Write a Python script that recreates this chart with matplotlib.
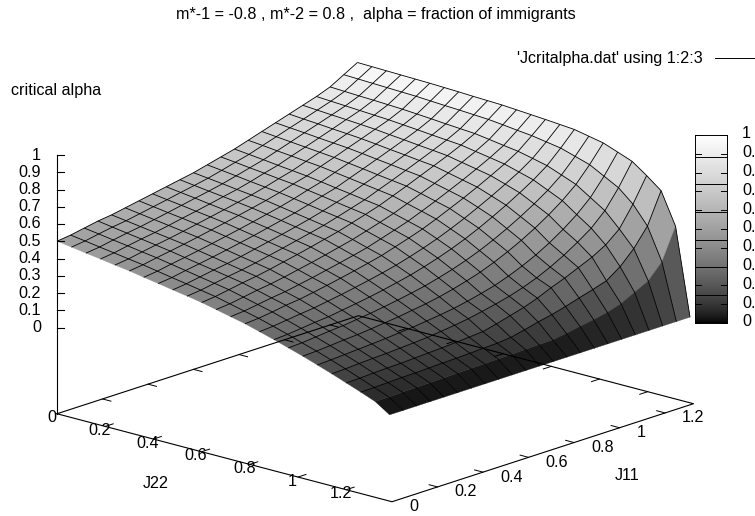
import matplotlib
matplotlib.use('Agg')
import matplotlib.pyplot as plt
from matplotlib.collections import LineCollection, PolyCollection
from matplotlib.colors import ListedColormap
import numpy as np

plt.rcParams['font.family'] = ['Liberation Sans', 'DejaVu Sans']

titleText = "m*-1 = -0.8 , m*-2 = 0.8 ,  alpha = fraction of immigrants"
keyText = "'Jcritalpha.dat' using 1:2:3"

j22 = [0.00, 0.06, 0.12, 0.18, 0.24, 0.30, 0.36, 0.42, 0.48, 0.54, 0.60, 0.66,
       0.72, 0.78, 0.84, 0.90, 0.96, 1.02, 1.08, 1.14, 1.20, 1.26, 1.32, 1.38]
j11 = [0.00, 0.06, 0.12, 0.18, 0.24, 0.30, 0.36, 0.42, 0.48, 0.54, 0.60, 0.66,
       0.72, 0.78, 0.84, 0.90, 0.96, 1.02, 1.08, 1.14, 1.20, 1.26, 1.32]

# one row per j22 value, j11 runs along the row
critAlpha = [
    [.500, .510, .525, .540, .550, .565, .580, .595, .610, .625, .640, .660, .680, .700, .725, .750, .775, .800, .825, .850, .880, .925, .970],
    [.488, .498, .513, .527, .538, .553, .568, .583, .599, .614, .630, .650, .671, .691, .717, .742, .768, .793, .819, .845, .876, .922, .968],
    [.475, .485, .500, .514, .526, .541, .556, .572, .588, .603, .620, .640, .661, .682, .708, .734, .761, .787, .813, .840, .872, .919, .966],
    [.463, .473, .488, .502, .514, .529, .545, .560, .576, .593, .609, .629, .652, .672, .700, .726, .753, .780, .808, .835, .869, .916, .964],
    [.450, .460, .475, .489, .502, .517, .533, .549, .565, .582, .599, .619, .642, .663, .691, .718, .746, .774, .802, .830, .865, .913, .962],
    [.438, .448, .463, .476, .490, .505, .521, .537, .554, .571, .589, .609, .633, .654, .683, .710, .739, .767, .796, .825, .861, .910, .960],
    [.423, .433, .448, .461, .475, .490, .506, .522, .539, .557, .575, .596, .620, .642, .671, .699, .729, .758, .787, .818, .855, .905, .957],
    [.409, .418, .433, .446, .460, .475, .491, .507, .525, .543, .561, .583, .607, .629, .659, .688, .718, .748, .779, .811, .849, .900, .954],
    [.394, .404, .418, .432, .444, .459, .476, .493, .510, .528, .547, .569, .593, .617, .647, .676, .708, .739, .770, .803, .842, .896, .950],
    [.380, .389, .403, .417, .429, .444, .461, .478, .496, .514, .533, .556, .580, .604, .635, .665, .697, .729, .762, .796, .836, .891, .947],
    [.365, .374, .388, .402, .414, .429, .446, .463, .481, .500, .519, .543, .567, .592, .623, .654, .687, .720, .753, .789, .830, .886, .944],
    [.346, .354, .367, .381, .392, .406, .423, .439, .457, .476, .495, .519, .543, .569, .600, .633, .666, .701, .736, .774, .818, .877, .938],
    [.327, .334, .346, .359, .369, .384, .399, .416, .433, .451, .470, .495, .520, .546, .578, .611, .646, .682, .720, .760, .805, .867, .932],
    [.308, .314, .325, .338, .347, .361, .376, .392, .409, .427, .446, .471, .496, .523, .555, .590, .625, .663, .703, .745, .793, .858, .926],
    [.284, .290, .300, .310, .319, .332, .345, .360, .376, .393, .412, .435, .460, .488, .520, .555, .593, .633, .676, .721, .774, .844, .919],
    [.260, .265, .274, .283, .290, .302, .314, .327, .342, .359, .377, .399, .424, .452, .484, .520, .560, .602, .648, .697, .754, .830, .912],
    [.234, .238, .246, .254, .260, .270, .280, .292, .305, .320, .336, .357, .380, .407, .438, .474, .514, .558, .606, .659, .722, .804, .895],
    [.208, .212, .218, .225, .230, .238, .247, .256, .268, .280, .295, .314, .336, .361, .392, .428, .468, .513, .564, .621, .689, .778, .878],
    [.179, .183, .188, .193, .198, .204, .211, .218, .228, .238, .250, .266, .285, .306, .334, .367, .405, .450, .502, .562, .635, .733, .847],
    [.150, .153, .158, .162, .165, .170, .175, .181, .190, .200, .212, .228, .245, .265, .290, .320, .357, .400, .450, .505, .581, .688, .815],
    [.119, .121, .125, .128, .130, .134, .138, .142, .147, .153, .159, .178, .200, .222, .250, .285, .315, .350, .385, .430, .497, .615, .755],
    [.088, .089, .092, .095, .096, .099, .102, .104, .107, .111, .114, .122, .140, .160, .177, .198, .222, .245, .270, .326, .405, .510, .689],
    [.055, .056, .058, .060, .061, .063, .065, .066, .068, .070, .072, .074, .076, .078, .090, .105, .118, .135, .160, .200, .240, .325, .505],
    [.000, .000, .000, .000, .000, .000, .000, .000, .000, .000, .000, .000, .000, .000, .000, .000, .000, .000, .000, .000, .000, .000, .000],
]

j22Ticks = [0, 0.2, 0.4, 0.6, 0.8, 1, 1.2]
j11Ticks = [0, 0.2, 0.4, 0.6, 0.8, 1, 1.2]
alphaTicks = [0, 0.1, 0.2, 0.3, 0.4, 0.5, 0.6, 0.7, 0.8, 0.9, 1]
barLines = [0.151, 0.298, 0.444, 0.591, 0.737, 0.881]

J22_END = 1.39
J11_END = 1.3247
TICK = 0.035
FONT = 11.6


def project(x, y, z):
    # gnuplot view is orthographic, so it is just a linear map to pixels
    px = 57 + 241 * np.asarray(x) + 227.6 * np.asarray(y)
    py = 327.5 + 63.3 * np.asarray(x) - 74 * np.asarray(y) - 172.5 * np.asarray(z)
    return px, py


def base(x, y):
    # floor of the box sits half a z range below z=0
    return project(x, y, -0.5)


def grayMap():
    levels = np.linspace(0, 1, 256)
    v = levels ** (1 / 1.5)
    return ListedColormap(np.column_stack([v, v, v]))


fig = plt.figure(figsize=(7.55, 5.16), dpi=100)
ax = fig.add_axes([0, 0, 1, 1])
ax.axis('off')

# surface, far cells first
Z = np.array(critAlpha)
cells = []
for i in range(len(j22) - 1):
    for j in range(len(j11) - 1):
        cells.append((j22[i] - j11[j], i, j))
cells.sort()

polys = []
shades = []
for _, i, j in cells:
    xs = [j22[i], j22[i + 1], j22[i + 1], j22[i]]
    ys = [j11[j], j11[j], j11[j + 1], j11[j + 1]]
    zs = [Z[i, j], Z[i + 1, j], Z[i + 1, j + 1], Z[i, j + 1]]
    px, py = project(xs, ys, zs)
    polys.append(np.column_stack([px, py]))
    shades.append(np.mean(zs))

cmap = grayMap()
surf = PolyCollection(polys, array=np.array(shades), cmap=cmap, edgecolors='face', linewidths=0.2)
surf.set_clim(0, 1)
ax.add_collection(surf)

# mesh: the reference has no line along j22=1.32, j22=1.38 or j11=0
segs = []
for i in range(len(j22) - 2):
    px, py = project([j22[i]] * len(j11), j11, Z[i, :])
    segs.append(np.column_stack([px, py]))
for j in range(1, len(j11)):
    px, py = project(j22, [j11[j]] * len(j22), Z[:, j])
    segs.append(np.column_stack([px, py]))
ax.add_collection(LineCollection(segs, colors='black', linewidths=0.6))

# floor of the box
cornersX = [0, J22_END, J22_END, 0, 0]
cornersY = [0, 0, J11_END, J11_END, 0]
px, py = base(cornersX, cornersY)
ax.plot(px, py, color='black', lw=0.8)

for t in j22Ticks[1:]:
    px, py = base([t, t], [0, TICK])
    ax.plot(px, py, color='black', lw=0.7)
    px, py = base([t, t], [J11_END, J11_END - TICK])
    ax.plot(px, py, color='black', lw=0.7)
for t in j11Ticks[1:]:
    px, py = base([J22_END, J22_END - TICK], [t, t])
    ax.plot(px, py, color='black', lw=0.7)
    px, py = base([0, TICK], [t, t])
    ax.plot(px, py, color='black', lw=0.7)

for t in j22Ticks:
    px, py = base(t, 0)
    ax.text(px - 5.5, py + 4, f'{t:g}', fontsize=FONT, ha='center', va='center')
for t in j11Ticks:
    px, py = base(J22_END, t)
    ax.text(px + 17, py + 5, f'{t:g}', fontsize=FONT, ha='left', va='center')

# z axis
px0, py0 = base(0, 0)
px1, py1 = project(0, 0, 1)
ax.plot([px0, px1], [py0, py1], color='black', lw=0.8)
for t in alphaTicks:
    px, py = project(0, 0, t)
    ax.plot([px, px + 7], [py, py], color='black', lw=0.8)
    ax.text(px - 16, py, f'{t:g}', fontsize=FONT, ha='right', va='center')

# colour box
barX0, barX1 = 695, 727
barTop, barBottom = 135, 323
ramp = np.linspace(1, 0, 256).reshape(-1, 1)
ax.imshow(ramp, cmap=cmap, vmin=0, vmax=1, aspect='auto', extent=[barX0, barX1, barBottom, barTop])
ax.plot([barX0, barX1, barX1, barX0, barX0], [barTop, barTop, barBottom, barBottom, barTop], color='black', lw=0.7)
for t in barLines:
    yy = barBottom - t * (barBottom - barTop)
    ax.plot([barX0, barX1], [yy, yy], color='black', lw=0.7)
for t in alphaTicks:
    yy = barBottom - t * (barBottom - barTop)
    ax.plot([barX0, barX0 + 6], [yy, yy], color='black', lw=0.7)
    ax.plot([barX1 - 6, barX1], [yy, yy], color='black', lw=0.7)
    ax.text(742, yy - 1, f'{t:g}', fontsize=FONT, ha='left', va='center')

ax.text(376, 15, titleText, fontsize=FONT, ha='center', va='center')
ax.text(11, 90, 'critical alpha', fontsize=FONT, ha='left', va='center')
ax.text(703, 58, keyText, fontsize=FONT, ha='right', va='center')
ax.plot([715, 755], [58, 58], color='black', lw=0.7)
ax.text(156, 483, 'J22', fontsize=FONT, ha='center', va='center')
ax.text(627, 476, 'J11', fontsize=FONT, ha='center', va='center')

ax.set_xlim(0, 755)
ax.set_ylim(516, 0)

fig.savefig('out.png', dpi=100)
